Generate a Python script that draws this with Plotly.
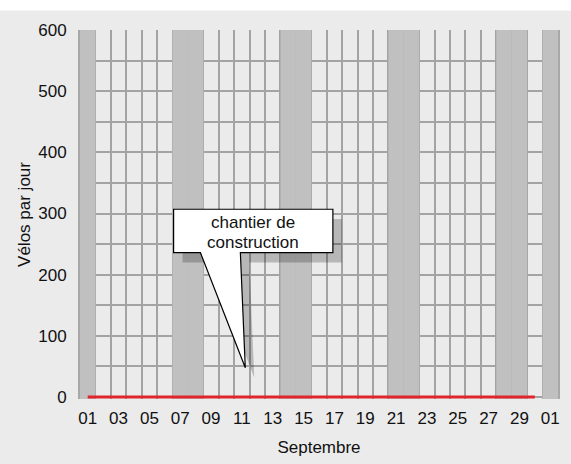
import plotly.graph_objects as go

# ---- data ----
days = list(range(1, 31))                      # September 1..30
velos = [0] * 30                               # bikes per day (construction site -> 0)
weekend_days = [1, 7, 8, 14, 15, 21, 22, 28, 29, 31]
tick_days = list(range(1, 32, 2))
tick_labels = ["01", "03", "05", "07", "09", "11", "13", "15", "17", "19",
               "21", "23", "25", "27", "29", "01"]
y_ticks = [0, 100, 200, 300, 400, 500, 600]
callout_lines = ["chantier de", "construction"]
callout_line_values = [285, 253]
callout_tip = (11.22, 48)          # day, value the callout points to
callout_box = (6.57, 16.90, 236, 307)  # day0, day1, value0, value1
callout_base = (8.31, 10.90)       # pointer base days

FONT = "Liberation Sans, Arial, sans-serif"
BG = "#ebebeb"
GRID = "#a3a3a3"
BAND = "#c0c0c0"
Y_MIN = -3.2

fig = go.Figure()
fig.add_trace(go.Scatter(x=days, y=velos, mode="lines",
                         line=dict(color="#e0262c", width=3),
                         showlegend=False, hoverinfo="skip"))

shapes = []
for d in weekend_days:
    shapes.append(dict(type="rect", xref="x", yref="y", x0=d - 0.5, x1=d + 0.5,
                       y0=Y_MIN, y1=600, fillcolor=BAND, line=dict(width=0),
                       layer="between"))

# callout (shadow + bubble)
def bubble_path(dx, dy):
    bx0, bx1, by0, by1 = callout_box
    p0, p1 = callout_base
    tx, ty = callout_tip
    pts = [(bx0, by1), (bx1, by1), (bx1, by0), (p1, by0), (tx, ty), (p0, by0), (bx0, by0)]
    return "M " + " L ".join(f"{x + dx},{y + dy}" for x, y in pts) + " Z"

px_day = 480 / 31
px_val = 379 / (600 - Y_MIN)
shapes.append(dict(type="path", xref="x", yref="y",
                   path=bubble_path(9 / px_day, -10 / px_val),
                   fillcolor="rgba(0,0,0,0.22)", line=dict(width=0), layer="above"))
shapes.append(dict(type="path", xref="x", yref="y", path=bubble_path(0, 0),
                   fillcolor="white", line=dict(color="black", width=1.2), layer="above"))

# white strip at very top of page
shapes.append(dict(type="rect", xref="paper", yref="paper",
                   x0=-80 / 480 - 0.01, x1=1 + 11 / 480 + 0.01,
                   y0=1 + 20 / 379, y1=1 + 31 / 379,
                   fillcolor="white", line=dict(width=0), layer="above"))

annotations = [dict(x=(callout_box[0] + callout_box[1]) / 2, y=v,
                    xref="x", yref="y", text=t, showarrow=False, yanchor="middle",
                    font=dict(family=FONT, size=17, color="#111111"))
               for t, v in zip(callout_lines, callout_line_values)]

fig.update_layout(
    width=571, height=464,
    margin=dict(l=80, r=11, t=30, b=55),
    paper_bgcolor=BG, plot_bgcolor=BG,
    font=dict(family=FONT, size=17, color="#111111"),
    shapes=shapes,
    annotations=annotations,
)
fig.update_xaxes(range=[0.5, 31.5], tickvals=tick_days, ticktext=tick_labels,
                 showgrid=False, zeroline=False, showline=False,
                 ticks="outside", ticklen=4, tickcolor="rgba(0,0,0,0)",
                 minor=dict(tick0=0.5, dtick=1, showgrid=True, gridcolor=GRID,
                            gridwidth=1.5, ticks=""),
                 title=dict(text="Septembre", standoff=13,
                            font=dict(family=FONT, size=17)))
fig.update_yaxes(range=[Y_MIN, 600], tickvals=y_ticks,
                 showgrid=True, gridcolor=GRID, gridwidth=1.5, zeroline=False,
                 showline=True, mirror=True, linecolor="#a8a8a8", linewidth=2,
                 ticks="outside", ticklen=8, tickcolor="rgba(0,0,0,0)",
                 minor=dict(tick0=0, dtick=50, showgrid=True, gridcolor=GRID,
                            gridwidth=1.5, ticks=""),
                 title=dict(text="Vélos par jour", standoff=3,
                            font=dict(family=FONT, size=17)))

fig.write_html("out.html", config={"displayModeBar": False},
               post_script="document.body.style.margin='0';")
